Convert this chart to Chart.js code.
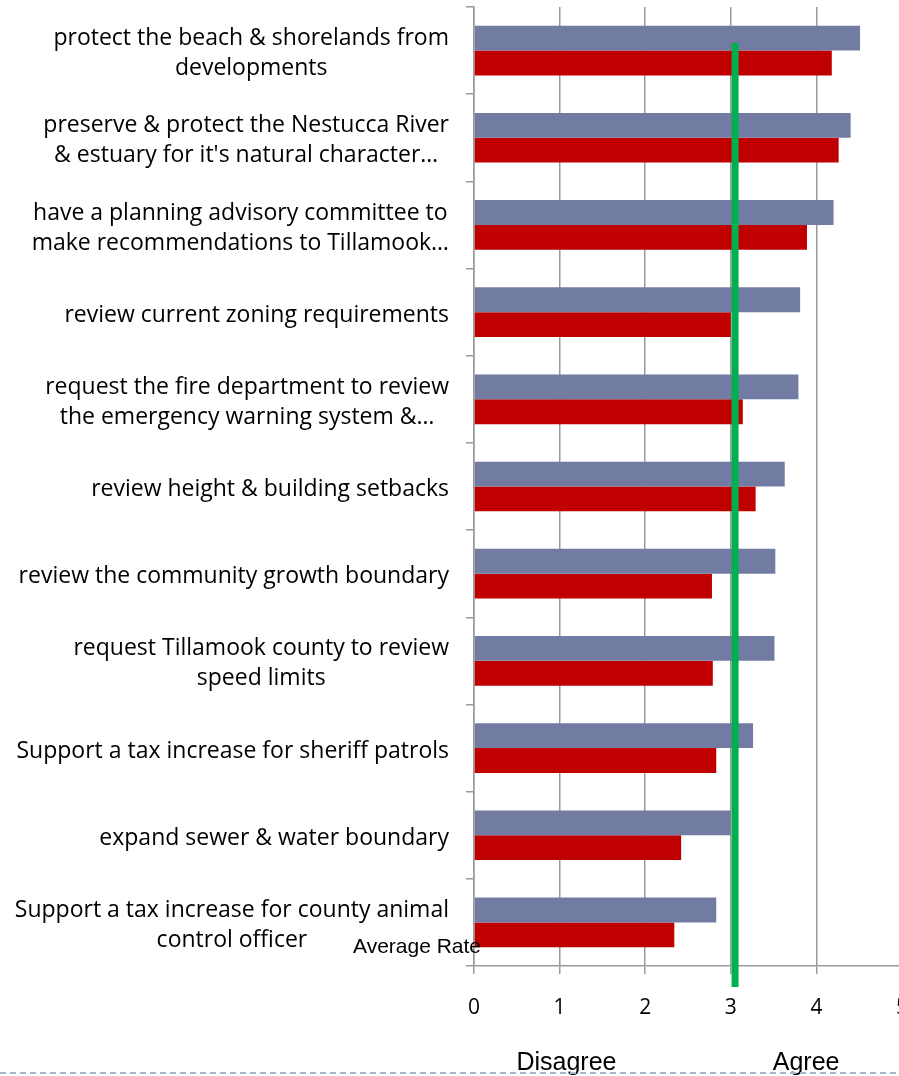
<!DOCTYPE html>
<html>
<head>
<meta charset="utf-8">
<script src="https://cdn.jsdelivr.net/npm/chart.js@4"></script>
<style>
  html, body { margin: 0; padding: 0; background: #fff; overflow: hidden; }
  #wrap { width: 929px; height: 1076px; }
</style>
</head>
<body>
<div id="wrap"><canvas id="chart" width="929" height="1076"></canvas></div>
<script>
const categories = [
  ['protect the beach & shorelands from', 'developments'],
  ['preserve & protect the Nestucca River', '& estuary for it\'s natural character\u2026'],
  ['have a planning advisory committee to', 'make recommendations to Tillamook\u2026'],
  ['review current zoning requirements'],
  ['request the fire department to review', 'the emergency warning system &\u2026'],
  ['review height & building setbacks'],
  ['review the community growth boundary'],
  ['request Tillamook county to review', 'speed limits'],
  ['Support a tax increase for sheriff patrols'],
  ['expand sewer & water boundary'],
  ['Support a tax increase for county animal', 'control officer']
]
const blueValues = [4.51, 4.40, 4.20, 3.81, 3.79, 3.63, 3.52, 3.51, 3.26, 3.00, 2.83]
const redValues = [4.18, 4.26, 3.89, 3.00, 3.14, 3.29, 2.78, 2.79, 2.83, 2.42, 2.34]
const averageRate = 3.05
const averageLabel = 'Average Rate'
const scaleWords = [['Disagree', 1.08], ['Agree', 3.88]]

const gridGrey = '#9a9a9a'
const labelFont = '23px "Open Sans"'

const overlay = {
  id: 'overlay',
  afterDatasetsDraw(chart) {
    const ctx = chart.ctx
    const area = chart.chartArea
    const x = chart.scales.x.getPixelForValue(averageRate)
    ctx.save()
    ctx.fillStyle = '#00b050'
    ctx.fillRect(x - 3.5, area.top + 36, 7, area.bottom - area.top - 15)
    ctx.restore()
  },
  afterDraw(chart) {
    const ctx = chart.ctx
    const xs = chart.scales.x
    const ys = chart.scales.y
    const area = chart.chartArea
    ctx.save()

    // category labels, lines centred on each other, block right-aligned to the axis
    ctx.font = labelFont
    ctx.fillStyle = '#000'
    ctx.textAlign = 'center'
    ctx.textBaseline = 'middle'
    categories.forEach((lines, i) => {
      const y = ys.getPixelForValue(i) + 3
      const w = Math.max(...lines.map(l => ctx.measureText(l).width))
      const cx = area.left - 25 - w / 2
      lines.forEach((l, j) => {
        ctx.fillText(l, cx, y + (j - (lines.length - 1) / 2) * 30)
      })
    })

    // average label
    ctx.font = '21px "Liberation Sans"'
    ctx.textAlign = 'left'
    ctx.textBaseline = 'alphabetic'
    ctx.fillText(averageLabel, 353, area.bottom - 13)

    // disagree / agree
    ctx.font = '25px "Liberation Sans"'
    ctx.textAlign = 'center'
    scaleWords.forEach(([word, v]) => {
      ctx.fillText(word, xs.getPixelForValue(v), 1070)
    })

    // dashed rule at the bottom
    ctx.strokeStyle = '#a6b9cd'
    ctx.lineWidth = 2
    ctx.setLineDash([6, 4])
    ctx.beginPath()
    ctx.moveTo(0, 1073)
    ctx.lineTo(chart.width, 1073)
    ctx.stroke()
    ctx.restore()
  }
}

new Chart(document.getElementById('chart'), {
  type: 'bar',
  data: {
    labels: categories.map(l => l.join(' ')),
    datasets: [
      { data: blueValues, backgroundColor: '#727ca3' },
      { data: redValues, backgroundColor: '#c00000' }
    ]
  },
  options: {
    indexAxis: 'y',
    responsive: false,
    animation: false,
    layout: { padding: { top: 7 } },
    datasets: { bar: { categoryPercentage: 0.57, barPercentage: 1 } },
    plugins: { legend: { display: false }, tooltip: { enabled: false } },
    scales: {
      x: {
        min: 0,
        max: 5,
        ticks: { stepSize: 1, color: '#000', font: { family: 'Open Sans', size: 21 }, padding: 21 },
        grid: { color: gridGrey, lineWidth: 1.5, tickLength: 8 },
        border: { color: gridGrey, width: 1.5 },
        afterFit: s => { s.height = 110 }
      },
      y: {
        ticks: { display: false },
        grid: { drawOnChartArea: false, color: gridGrey, lineWidth: 1.5, tickLength: 8 },
        border: { color: gridGrey, width: 1.5 },
        afterFit: s => { s.width = 474 }
      }
    }
  },
  plugins: [overlay]
})
</script>
</body>
</html>
